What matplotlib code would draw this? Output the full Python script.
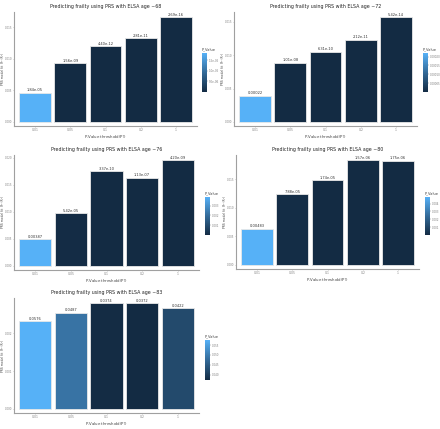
import matplotlib
matplotlib.use("Agg")
import matplotlib.pyplot as plt
import numpy as np
from matplotlib.colors import LinearSegmentedColormap, Normalize
from matplotlib.colorbar import ColorbarBase

thresholds = ["0.01", "0.05", "0.1", "0.2", "1"]

ages = ["~68", "~72", "~76", "~80", "~83"]

r2_age68 = [0.0046, 0.0093, 0.0120, 0.0133, 0.0166]
p_age68 = [1.84e-05, 1.56e-09, 4.40e-12, 2.81e-11, 2.69e-16]
p_lab68 = ["1.84e-05", "1.56e-09", "4.40e-12", "2.81e-11", "2.69e-16"]

r2_age72 = [0.0039, 0.0089, 0.0105, 0.0123, 0.0157]
p_age72 = [0.00022, 1.01e-08, 6.31e-10, 2.12e-11, 5.42e-14]
p_lab72 = ["0.00022", "1.01e-08", "6.31e-10", "2.12e-11", "5.42e-14"]

r2_age76 = [0.0049, 0.0097, 0.0175, 0.0163, 0.0195]
p_age76 = [0.00387, 5.42e-05, 3.37e-10, 1.13e-07, 4.20e-09]
p_lab76 = ["0.00387", "5.42e-05", "3.37e-10", "1.13e-07", "4.20e-09"]

r2_age80 = [0.0063, 0.0124, 0.0148, 0.0183, 0.0182]
p_age80 = [0.00483, 7.88e-05, 1.74e-05, 1.57e-06, 1.75e-06]
p_lab80 = ["0.00483", "7.88e-05", "1.74e-05", "1.57e-06", "1.75e-06"]

r2_age83 = [0.00233, 0.00255, 0.00280, 0.00280, 0.00267]
p_age83 = [0.0576, 0.0487, 0.0374, 0.0372, 0.0422]
p_lab83 = ["0.0576", "0.0487", "0.0374", "0.0372", "0.0422"]

yticks_list = [
    [0.000, 0.005, 0.010, 0.015],
    [0.000, 0.005, 0.010, 0.015],
    [0.000, 0.005, 0.010, 0.015, 0.020],
    [0.000, 0.005, 0.010, 0.015],
    [0.000, 0.001, 0.002],
]
cbticks_list = [
    ([5e-06, 1e-05, 1.5e-05], ["5.0e-06", "1.0e-05", "1.5e-05"]),
    ([5e-05, 1e-04, 1.5e-04, 2e-04], ["0.00005", "0.00010", "0.00015", "0.00020"]),
    ([0.001, 0.002, 0.003], ["0.001", "0.002", "0.003"]),
    ([0.001, 0.002, 0.003, 0.004], ["0.001", "0.002", "0.003", "0.004"]),
    ([0.040, 0.045, 0.050, 0.055], ["0.040", "0.045", "0.050", "0.055"]),
]

data = [
    (r2_age68, p_age68, p_lab68),
    (r2_age72, p_age72, p_lab72),
    (r2_age76, p_age76, p_lab76),
    (r2_age80, p_age80, p_lab80),
    (r2_age83, p_age83, p_lab83),
]

W, H = 440, 429
fig = plt.figure(figsize=(W / 100, H / 100), dpi=100)
fig.patch.set_facecolor("white")

cmap = LinearSegmentedColormap.from_list("gg", ["#132B43", "#336A98", "#56B1F7"])

# panel pixel geometry: (axes left, right, top, bottom), (cbar left, right, top, bottom)
geo = [
    ((14, 197, 12, 126), (202, 207, 53, 92)),
    ((234, 417, 12, 126), (423, 428, 53, 92)),
    ((14, 199, 155, 270), (205, 210, 197, 235)),
    ((236, 419, 155, 269), (425, 430, 197, 235)),
    ((14, 199, 298, 413), (205, 210, 340, 380)),
]

def px_rect(l, r, t, b):
    return [l / W, 1 - b / H, (r - l) / W, (b - t) / H]

grey = "#a0a0a0"
for i, ((r2, pv, plab), ((al, ar, at, ab), (cl, cr, ct, cb))) in enumerate(zip(data, geo)):
    ax = fig.add_axes(px_rect(al, ar, at, ab))
    norm = Normalize(vmin=min(pv), vmax=max(pv))
    x = np.arange(len(thresholds))
    cols = [cmap(norm(p)) for p in pv]
    ax.bar(x, r2, width=0.9, color=cols, edgecolor="#e8e8e8", linewidth=0.6)
    top = max(r2)
    ax.set_xlim(-0.6, len(thresholds) - 0.4)
    ax.set_ylim(-0.04 * top, top * 1.05)
    for xi, v, lab in zip(x, r2, plab):
        ax.text(xi, v + top * 0.004, lab, ha="center", va="bottom", fontsize=2.6, color="#333333")
    ax.set_xticks(x)
    ax.set_xticklabels(thresholds, fontsize=2.2, color="#808080")
    yt = yticks_list[i]
    ax.set_yticks(yt)
    ax.set_yticklabels(["%.3f" % t for t in yt], fontsize=2.0, color="#808080")
    ax.tick_params(length=0.8, width=0.4, color=grey, pad=0.6)
    for s in ["top", "right"]:
        ax.spines[s].set_visible(False)
    for s in ["left", "bottom"]:
        ax.spines[s].set_color(grey)
        ax.spines[s].set_linewidth(0.8)
    ax.set_facecolor("white")
    ax.set_xlabel("P-Value threshold(P$_T$)", fontsize=2.8, color="#444444", labelpad=1.2)
    ax.set_ylabel("PRS model fit  R² (R²)", fontsize=2.2, color="#444444")
    ax.yaxis.set_label_coords(-9.0 / (ar - al), 0.5)
    ax.set_title("Predicting frailty using PRS with ELSA age " + ages[i], fontsize=3.4,
                 color="#222222", pad=3)

    cax = fig.add_axes(px_rect(cl, cr, ct, cb))
    cbar = ColorbarBase(cax, cmap=cmap, norm=norm, orientation="vertical")
    cbar.outline.set_visible(False)
    tv, tl = cbticks_list[i]
    cbar.set_ticks(tv)
    cbar.set_ticklabels(tl)
    cax.tick_params(labelsize=2.0, length=0.8, width=0.3, colors="#808080", pad=0.8)
    fig.text(cl / W, 1 - (ct - 2) / H, "P_Value", fontsize=2.6, color="#444444",
             ha="left", va="bottom")

fig.savefig("out.png", dpi=100, facecolor="white")
